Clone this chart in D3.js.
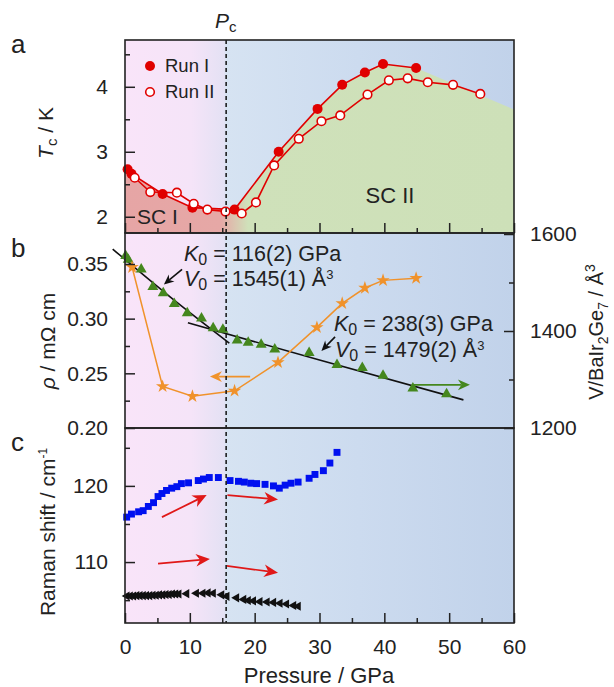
<!DOCTYPE html>
<html>
<head>
<meta charset="utf-8">
<script src="https://cdn.jsdelivr.net/npm/d3@7"></script>
<style>
  body { margin: 0; background: #fff; }
  svg { display: block; font-family: "Liberation Sans", Arial, sans-serif; }
</style>
</head>
<body>
<div id="chart"></div>
<script>
// ---- data ----
const pc = 15.6;

// panel a : Tc (K)
const runIP = [0.4, 1.0, 5.8, 10.4, 16.9, 23.7, 29.7, 33.5, 37.0, 39.8, 44.9];
const runIT = [2.73, 2.66, 2.35, 2.14, 2.11, 3.0, 3.66, 4.03, 4.22, 4.35, 4.29];
const runIIP = [1.5, 3.9, 8.0, 10.6, 12.7, 15.5, 18.0, 20.2, 23.0, 26.8, 30.3, 33.2, 37.4, 40.7, 43.6, 46.7, 50.6, 54.8];
const runIIT = [2.6, 2.38, 2.37, 2.2, 2.11, 2.08, 2.05, 2.22, 2.79, 3.2, 3.47, 3.56, 3.88, 4.1, 4.13, 4.07, 4.03, 3.89];
const fillEdgeP = [0, 60];
const fillEdgeT = [2.74, 3.65];

// panel b : resistivity (left) and volume (right)
const rhoP = [1.1, 5.8, 10.4, 16.9, 23.6, 29.6, 33.5, 37.0, 39.8, 44.9];
const rho = [0.347, 0.238, 0.229, 0.234, 0.260, 0.292, 0.314, 0.328, 0.335, 0.337];
const volP = [0.1, 0.5, 2.5, 4.3, 5.9, 7.6, 9.6, 11.8, 13.6, 15.1, 17.3, 19.0, 21.0, 23.1, 28.4, 32.7, 36.6, 39.8, 44.4, 49.6];
const vol = [1555, 1547, 1527, 1491, 1478, 1456, 1437, 1426, 1406, 1403, 1381, 1376, 1372, 1362, 1355, 1330, 1324, 1308, 1282, 1270];
const fit1P = [-1.9, 7, 16.1];
const fit1V = [1569, 1470, 1375];
const fit2P = [9.7, 30, 52.2];
const fit2V = [1417, 1340, 1258];

// panel c : Raman shift
const ramanHiP = [0.26, 1.0, 2.1, 2.8, 3.6, 4.4, 5.1, 5.7, 6.4, 7.2, 8.0, 8.7, 9.8, 11.3, 12.1, 13.0, 14.4, 16.2, 17.5, 18.4, 19.4, 20.3, 21.6, 22.9, 23.8, 24.7, 25.6, 26.7, 28.4, 29.3, 30.6, 31.6, 32.7];
const ramanHi = [115.9, 116.3, 116.6, 116.75, 117.3, 117.8, 118.6, 119.0, 119.4, 119.7, 119.9, 120.3, 120.4, 120.7, 120.9, 121.1, 121.1, 120.7, 120.6, 120.5, 120.35, 120.3, 120.2, 120.0, 119.7, 120.1, 120.35, 120.5, 121.0, 121.5, 122.0, 123.0, 124.4];
const ramanLoP = [0.3, 0.8, 1.3, 1.8, 2.3, 2.8, 3.3, 3.8, 4.3, 4.8, 5.3, 5.8, 6.3, 6.8, 7.3, 7.8, 8.3, 9.5, 11.0, 12.0, 12.8, 13.6, 14.9, 15.7, 17.2, 18.3, 19.0, 19.8, 20.8, 21.9, 22.9, 23.9, 24.9, 26.0, 26.7];
const ramanLo = [105.55, 105.55, 105.55, 105.6, 105.6, 105.6, 105.6, 105.6, 105.65, 105.65, 105.7, 105.7, 105.75, 105.75, 105.8, 105.8, 105.8, 105.85, 105.9, 105.9, 105.95, 105.9, 105.7, 105.5, 105.3, 105.1, 104.95, 104.9, 104.8, 104.75, 104.7, 104.6, 104.5, 104.3, 104.2];

// arrows (from -> to, in data units)
const volArrows = [[[8.8, 1527], [6.0, 1496]], [[32.4, 1388], [30.3, 1359]]];
const rhoArrow = [[19.3, 0.247], [13.1, 0.247]];
const volArrowGreen = [[44.4, 1289], [53.2, 1289]];
const ramanArrows = [[[5.7, 115.9], [12.6, 118.8]], [[15.8, 118.8], [23.6, 118.2]], [[5.1, 109.8], [13.1, 110.4]], [[15.7, 109.5], [23.6, 108.6]]];

// ticks
const xTicks = [0, 10, 20, 30, 40, 50, 60];
const tcTicks = [2, 3, 4];
const rhoTicks = [0.20, 0.25, 0.30, 0.35];
const volTicks = [1200, 1400, 1600];
const ramanTicks = [110, 120];

// ---- layout ----
const W = 614, H = 687;
const L = 125, R = 514;
const aTop = 40, aBot = 233, bBot = 428, cBot = 623;

const x = d3.scaleLinear([0, 60], [L, R]);
const yA = d3.scaleLinear([1.75, 4.72], [aBot, aTop]);
const yB = d3.scaleLinear([0.2, 0.3774], [bBot, aBot + 1]);
const yV = d3.scaleLinear([1200, 1600], [bBot, aBot + 1]);
const yC = d3.scaleLinear([102, 127.6], [cBot, bBot]);

const svg = d3.select('#chart').append('svg').attr('width', W).attr('height', H);
const defs = svg.append('defs');

// background gradient (pink -> blue)
const bg = defs.append('linearGradient').attr('id', 'bg')
  .attr('gradientUnits', 'userSpaceOnUse').attr('x1', L).attr('x2', R).attr('y1', 0).attr('y2', 0);
const pcf = (x(pc) - L) / (R - L);
[[0, '#f9e4f9'], [0.17, '#f5e4f8'], [pcf - 0.005, '#e4e1f4'], [pcf, '#d6e3f2'], [0.6, '#ccdbef'], [1, '#c1d2ea']]
  .forEach(s => bg.append('stop').attr('offset', s[0]).attr('stop-color', s[1]));

const fg = defs.append('linearGradient').attr('id', 'scfill')
  .attr('gradientUnits', 'userSpaceOnUse').attr('x1', L).attr('x2', R).attr('y1', 0).attr('y2', 0);
[[0, '#e6a5a5'], [(x(14.8) - L) / (R - L), '#e6a8a6'], [(x(19) - L) / (R - L), '#cfe1ba'], [1, '#cde0b8']]
  .forEach(s => fg.append('stop').attr('offset', s[0]).attr('stop-color', s[1]));

svg.append('rect').attr('x', L).attr('y', aTop).attr('width', R - L).attr('height', cBot - aTop).attr('fill', 'url(#bg)');

// ---- panel a ----
const runI = runIP.map((p, i) => [p, runIT[i]]);
const runII = runIIP.map((p, i) => [p, runIIT[i]]);
const fillPts = [[fillEdgeP[0], fillEdgeT[0]], ...runI, [fillEdgeP[1], fillEdgeT[1]]];
svg.append('path')
  .attr('d', d3.area().x(d => x(d[0])).y0(aBot).y1(d => yA(d[1]))(fillPts))
  .attr('fill', 'url(#scfill)');

const lineA = d3.line().x(d => x(d[0])).y(d => yA(d[1]));
const red = '#e00000';
svg.append('path').attr('d', lineA(runI)).attr('fill', 'none').attr('stroke', red).attr('stroke-width', 1.6);
svg.append('path').attr('d', lineA(runII)).attr('fill', 'none').attr('stroke', red).attr('stroke-width', 1.6);
svg.append('g').selectAll('circle').data(runI).join('circle')
  .attr('cx', d => x(d[0])).attr('cy', d => yA(d[1])).attr('r', 5).attr('fill', red);
svg.append('g').selectAll('circle').data(runII).join('circle')
  .attr('cx', d => x(d[0])).attr('cy', d => yA(d[1])).attr('r', 4.3)
  .attr('fill', '#fff').attr('stroke', red).attr('stroke-width', 1.6);

// legend
svg.append('circle').attr('cx', 150).attr('cy', 66).attr('r', 5).attr('fill', red);
svg.append('circle').attr('cx', 150).attr('cy', 92).attr('r', 4.3).attr('fill', '#fff').attr('stroke', red).attr('stroke-width', 1.6);
svg.append('text').attr('x', 165).attr('y', 72).attr('font-size', 18.5).attr('fill', '#222').text('Run I');
svg.append('text').attr('x', 165).attr('y', 98).attr('font-size', 18.5).attr('fill', '#222').text('Run II');
svg.append('text').attr('x', 137).attr('y', 224).attr('font-size', 21).attr('fill', '#222').text('SC I');
svg.append('text').attr('x', 390).attr('y', 203).attr('font-size', 22).attr('text-anchor', 'middle').attr('fill', '#222').text('SC II');

// ---- panel b ----
const green = '#45871e', orange = '#f0922b';
const lineV = d3.line().x(d => x(d[0])).y(d => yV(d[1])).curve(d3.curveNatural);
svg.append('path').attr('d', lineV(fit1P.map((p, i) => [p, fit1V[i]]))).attr('fill', 'none').attr('stroke', '#111').attr('stroke-width', 1.6);
svg.append('path').attr('d', lineV(fit2P.map((p, i) => [p, fit2V[i]]))).attr('fill', 'none').attr('stroke', '#111').attr('stroke-width', 1.6);

svg.append('g').selectAll('path').data(volP.map((p, i) => [p, vol[i]])).join('path')
  .attr('d', d3.symbol(d3.symbolTriangle, 52)())
  .attr('transform', d => `translate(${x(d[0])},${yV(d[1])})`)
  .attr('fill', green);

const rhoPts = rhoP.map((p, i) => [p, rho[i]]);
svg.append('path').attr('d', d3.line().x(d => x(d[0])).y(d => yB(d[1]))(rhoPts))
  .attr('fill', 'none').attr('stroke', orange).attr('stroke-width', 1.5);
svg.append('g').selectAll('path').data(rhoPts).join('path')
  .attr('d', d3.symbol(d3.symbolStar, 55)())
  .attr('transform', d => `translate(${x(d[0])},${yB(d[1])})`)
  .attr('fill', orange);

// ---- panel c ----
svg.append('g').selectAll('path').data(ramanHiP.map((p, i) => [p, ramanHi[i]])).join('path')
  .attr('d', d3.symbol(d3.symbolSquare, 48)())
  .attr('transform', d => `translate(${x(d[0])},${yC(d[1])})`)
  .attr('fill', '#0010f0');
svg.append('g').selectAll('path').data(ramanLoP.map((p, i) => [p, ramanLo[i]])).join('path')
  .attr('d', d3.symbol(d3.symbolTriangle, 36)())
  .attr('transform', d => `translate(${x(d[0])},${yC(d[1])}) rotate(-90)`)
  .attr('fill', '#111');

// ---- arrows ----
function arrow(p0, p1, ys, color, width, head) {
  const x0 = x(p0[0]), y0 = ys(p0[1]), x1 = x(p1[0]), y1 = ys(p1[1]);
  const a = Math.atan2(y1 - y0, x1 - x0);
  const hl = head, hw = head * 0.45;
  const bx = x1 - hl * Math.cos(a), by = y1 - hl * Math.sin(a);
  const nx = -Math.sin(a), ny = Math.cos(a);
  const mx = x1 - hl * 0.7 * Math.cos(a), my = y1 - hl * 0.7 * Math.sin(a);
  svg.append('line').attr('x1', x0).attr('y1', y0).attr('x2', mx).attr('y2', my)
    .attr('stroke', color).attr('stroke-width', width);
  svg.append('path')
    .attr('d', `M${x1},${y1}L${bx + nx * hw},${by + ny * hw}L${mx},${my}L${bx - nx * hw},${by - ny * hw}Z`)
    .attr('fill', color);
}
volArrows.forEach(a => arrow(a[0], a[1], yV, '#111', 1.6, 10));
arrow(rhoArrow[0], rhoArrow[1], yB, orange, 1.6, 12);
arrow(volArrowGreen[0], volArrowGreen[1], yV, green, 1.6, 12);
ramanArrows.forEach(a => arrow(a[0], a[1], yC, '#e01818', 1.7, 14));

// ---- Pc dashed line ----
svg.append('line').attr('x1', x(pc)).attr('x2', x(pc)).attr('y1', aTop).attr('y2', cBot)
  .attr('stroke', '#111').attr('stroke-width', 1.5).attr('stroke-dasharray', '4,3');

// ---- axes ----
function ticks(axis, g, major, minor, inner, fmt, pad) {
  const gm = svg.append('g').attr('transform', g);
  gm.call(axis.tickValues(minor).tickSizeInner(-5).tickSizeOuter(0).tickFormat(''));
  gm.select('.domain').remove();
  const gM = svg.append('g').attr('transform', g);
  gM.call(axis.tickValues(major).tickSizeInner(-inner).tickSizeOuter(0).tickFormat(fmt).tickPadding(pad));
  gM.select('.domain').remove();
  [gm, gM].forEach(s => s.selectAll('line').attr('stroke', '#222').attr('stroke-width', 1.5));
  gM.attr('font-family', null).attr('font-size', 21);
  gM.selectAll('text').attr('fill', '#222');
}
// panel a
ticks(d3.axisLeft(yA), `translate(${L},0)`, tcTicks, [2.5, 3.5, 4.5], 10, d3.format('d'), 17);
ticks(d3.axisBottom(x), `translate(0,${aBot})`, xTicks, [5, 15, 25, 35, 45, 55], 10, () => '', 0);
// panel b
ticks(d3.axisLeft(yB), `translate(${L},0)`, rhoTicks, [0.225, 0.275, 0.325], 10, d3.format('.2f'), 17);
ticks(d3.axisRight(yV), `translate(${R},0)`, volTicks, [1300, 1500], 10, d3.format('d'), 16);
// panel c
ticks(d3.axisLeft(yC), `translate(${L},0)`, ramanTicks, [105, 115, 125], 10, d3.format('d'), 17);
ticks(d3.axisBottom(x), `translate(0,${cBot})`, xTicks, [5, 15, 25, 35, 45, 55], 10, d3.format('d'), 16);

// frames
[[aTop, aBot], [aBot, bBot], [bBot, cBot]].forEach(f => {
  svg.append('rect').attr('x', L).attr('y', f[0]).attr('width', R - L).attr('height', f[1] - f[0])
    .attr('fill', 'none').attr('stroke', '#222').attr('stroke-width', 1.6);
});

// ---- labels ----
const ink = '#222';
function label(tx, ty, rot, size, parts) {
  const t = svg.append('text').attr('transform', `translate(${tx},${ty}) rotate(${rot})`)
    .attr('text-anchor', rot ? 'middle' : 'start').attr('font-size', size).attr('fill', ink);
  parts.forEach(p => {
    const s = t.append('tspan').text(p.t);
    if (p.i) s.attr('font-style', 'italic');
    if (p.fs) s.attr('font-size', p.fs);
    if (p.dy) s.attr('dy', p.dy);
  });
  return t;
}
label(53, 133, -90, 21, [{ t: 'T', i: 1 }, { t: 'c', fs: 15, dy: 4 }, { t: ' / K', dy: -4 }]);
label(55, 341, -90, 21, [{ t: 'ρ', i: 1 }, { t: ' / mΩ cm' }]);
label(55, 532, -90, 21, [{ t: 'Raman shift / cm' }, { t: '-1', fs: 12, dy: -8 }]);
label(603, 332, -90, 20, [{ t: 'V/BaIr' }, { t: '2', fs: 14, dy: 5 }, { t: 'Ge', dy: -5 }, { t: '7', fs: 14, dy: 5 }, { t: ' / Å', dy: -5 }, { t: '3', fs: 14, dy: -8 }]);

label(215, 28, 0, 21, [{ t: 'P', i: 1 }, { t: 'c', fs: 15, dy: 4 }]);
label(319, 683, 0, 22, [{ t: 'Pressure / GPa' }]).attr('text-anchor', 'middle');

label(11, 53, 0, 26, [{ t: 'a' }]);
label(11, 257, 0, 26, [{ t: 'b' }]);
label(11, 451, 0, 26, [{ t: 'c' }]);

label(184, 261, 0, 21.5, [{ t: 'K', i: 1 }, { t: '0', fs: 16, dy: 4 }, { t: ' = 116(2) GPa', dy: -4 }]);
label(184, 286, 0, 21.5, [{ t: 'V', i: 1 }, { t: '0', fs: 16, dy: 4 }, { t: ' =  1545(1) Å', dy: -4 }, { t: '3', fs: 13, dy: -7 }]);
label(334, 331, 0, 21.5, [{ t: 'K', i: 1 }, { t: '0', fs: 16, dy: 4 }, { t: ' = 238(3) GPa', dy: -4 }]);
label(335, 357, 0, 21.5, [{ t: 'V', i: 1 }, { t: '0', fs: 16, dy: 4 }, { t: ' =  1479(2) Å', dy: -4 }, { t: '3', fs: 13, dy: -7 }]);
</script>
</body>
</html>
